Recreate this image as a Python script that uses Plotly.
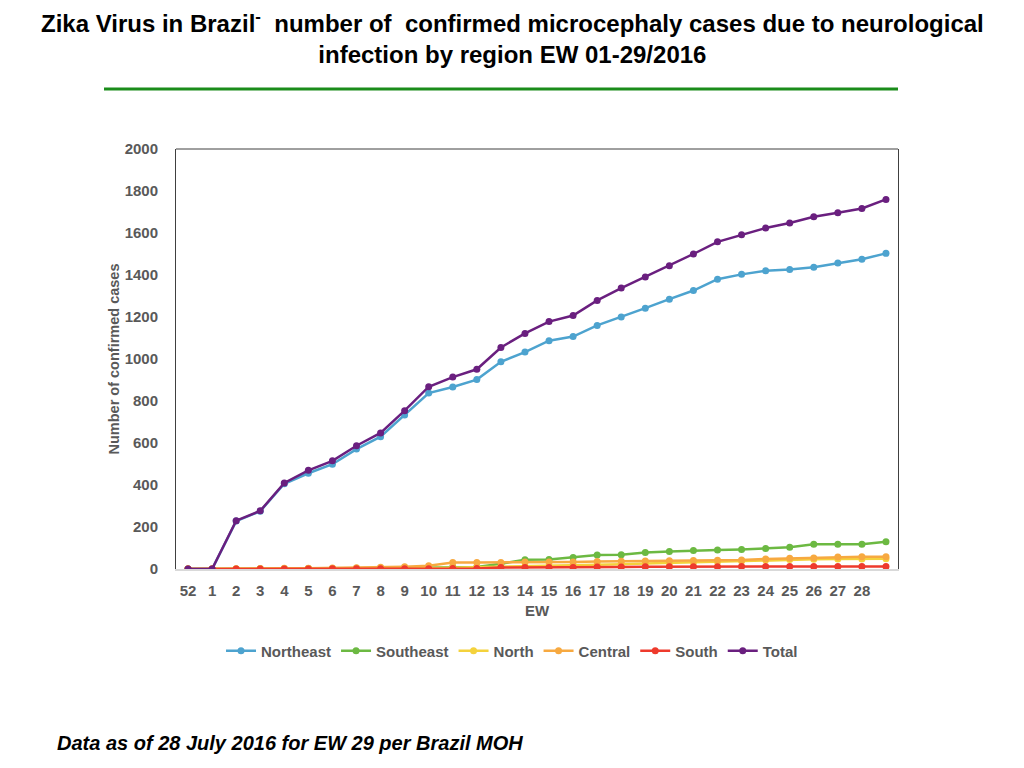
import plotly.graph_objs as go

# epidemiological weeks (52 of 2015, then 1..29 of 2016); last week has no tick label
weeks = ["52", "1", "2", "3", "4", "5", "6", "7", "8", "9", "10", "11", "12", "13", "14",
         "15", "16", "17", "18", "19", "20", "21", "22", "23", "24", "25", "26", "27", "28", "29"]
tick_labels = weeks[:-1]

northeast = [0, 0, 228, 275, 406, 456, 499, 571, 630, 733, 838, 867, 902, 987, 1033,
             1087, 1107, 1160, 1200, 1242, 1285, 1326, 1380, 1403, 1420, 1426, 1437, 1457, 1475, 1503]
southeast = [0, 0, 0, 1, 1, 2, 2, 3, 4, 5, 8, 10, 10, 25, 44,
             45, 55, 67, 68, 79, 83, 88, 90, 93, 98, 104, 118, 118, 118, 130]
north = [0, 0, 0, 0, 0, 1, 1, 1, 2, 3, 4, 6, 8, 10, 12,
         14, 16, 20, 23, 26, 29, 31, 35, 38, 43, 45, 46, 48, 48, 49]
central = [0, 0, 1, 2, 3, 4, 5, 6, 8, 11, 15, 31, 31, 31, 33,
           33, 33, 36, 37, 38, 39, 40, 42, 43, 48, 51, 52, 57, 58, 58]
south = [0, 0, 0, 0, 0, 0, 1, 1, 1, 1, 1, 2, 2, 7, 7,
         7, 7, 10, 10, 11, 11, 11, 11, 12, 12, 12, 12, 12, 12, 12]
total = [0, 0, 230, 277, 410, 470, 515, 587, 648, 754, 868, 914, 951, 1055, 1122,
         1178, 1207, 1279, 1338, 1391, 1444, 1500, 1558, 1592, 1624, 1648, 1677, 1696, 1717, 1760]

series = [
    ("Northeast", northeast, "#4da3cf"),
    ("Southeast", southeast, "#6cb942"),
    ("North", north, "#f4d23c"),
    ("Central", central, "#f7a940"),
    ("South", south, "#ee3a2c"),
    ("Total", total, "#6a1f7f"),
]

FONT = "Liberation Sans, Arial, sans-serif"
GREY = "#595959"
tick_font = dict(family=FONT, size=15, color=GREY, weight="bold")

fig = go.Figure()
for name, values, color in series:
    fig.add_trace(go.Scatter(
        x=weeks, y=values, name=name, mode="lines+markers",
        line=dict(color=color, width=2.5),
        marker=dict(color=color, size=7),
    ))

# page body adds ~8px offset, so margins are shifted to land the plot box at 176..898 / 149..569
fig.update_layout(
    width=1024, height=768,
    margin=dict(l=168, r=134, t=141, b=207),
    paper_bgcolor="white", plot_bgcolor="white",
    font=dict(family=FONT, color=GREY),
    showlegend=True,
    legend=dict(orientation="h", x=0.4654, xanchor="center", y=-0.195, yanchor="middle",
                font=dict(family=FONT, size=15, color=GREY, weight="bold"),
                itemwidth=30, tracegroupgap=0),
)

fig.update_xaxes(
    type="category", range=[-0.5, 29.5],
    tickmode="array", tickvals=tick_labels, ticktext=tick_labels,
    tickfont=tick_font, ticklabelstandoff=7,
    showgrid=False, zeroline=False,
    showline=True, linecolor="#d9d9d9", linewidth=2,
    ticks="",
    title=dict(text="EW", font=tick_font, standoff=7),
)
fig.update_yaxes(
    range=[0, 2000], dtick=200,
    tickfont=tick_font, ticklabelstandoff=14,
    showgrid=False, zeroline=False,
    showline=True, mirror=True, linecolor="#404040", linewidth=1,
    ticks="",
    title=dict(text="Number of confirmed cases", font=dict(family=FONT, size=14.5, color=GREY, weight="bold"),
               standoff=1),
)

# top border of the plot box and the green rule under the title
fig.add_shape(type="line", xref="paper", yref="paper", x0=0, x1=1, y0=1, y1=1,
              line=dict(color="#404040", width=1))
fig.add_shape(type="line", xref="paper", yref="paper", x0=-0.0997, x1=1.0, y0=1.143, y1=1.143,
              line=dict(color="#1a8c1a", width=3))

fig.add_annotation(
    text="Zika Virus in Brazil<sup>-</sup>  number of  confirmed microcephaly cases due to neurological<br>"
         "infection by region EW 01-29/2016",
    xref="paper", yref="paper", x=0.4654, y=1.2655, xanchor="center", yanchor="middle",
    showarrow=False, align="center",
    font=dict(family=FONT, size=24, color="black", weight="bold"),
)
fig.add_annotation(
    text="<i>Data as of 28 July 2016 for EW 29 per Brazil MOH</i>",
    xref="paper", yref="paper", x=(55 - 176) / 722, y=(569 - 743) / 420, xanchor="left", yanchor="middle",
    showarrow=False,
    font=dict(family=FONT, size=20, color="black", weight="bold"),
)

fig.write_html("out.html")
